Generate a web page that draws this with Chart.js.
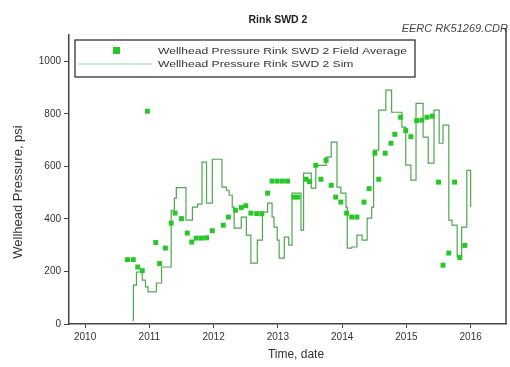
<!DOCTYPE html>
<html>
<head>
<meta charset="utf-8">
<script src="https://cdn.jsdelivr.net/npm/chart.js@4/dist/chart.umd.min.js"></script>
<style>
  html, body { margin: 0; padding: 0; background: #fff; }
  #wrap { width: 510px; height: 367px; }
</style>
</head>
<body>
<div id="wrap"><canvas id="c" width="510" height="367"></canvas></div>
<script>
// Field-measured wellhead pressure (monthly averages), decimal years / psi
const fieldYears = [2010.66, 2010.75, 2010.82, 2010.89, 2010.97, 2011.10, 2011.16, 2011.25, 2011.34, 2011.40,
  2011.50, 2011.59, 2011.66, 2011.73, 2011.81, 2011.89, 2011.98, 2012.15, 2012.23, 2012.34,
  2012.43, 2012.50, 2012.58, 2012.67, 2012.75, 2012.84, 2012.91, 2012.99, 2013.07, 2013.15,
  2013.25, 2013.31, 2013.44, 2013.49, 2013.59, 2013.67, 2013.75, 2013.83, 2013.90, 2013.98,
  2014.07, 2014.15, 2014.23, 2014.34, 2014.42, 2014.51, 2014.57, 2014.67, 2014.76, 2014.82,
  2014.91, 2014.99, 2015.07, 2015.16, 2015.24, 2015.32, 2015.40, 2015.50, 2015.57, 2015.66,
  2015.75, 2015.83, 2015.91];
const fieldPsi = [245, 245, 217, 203, 810, 310, 230, 289, 384, 422,
  401, 346, 312, 327, 327, 328, 355, 376, 407, 433,
  443, 450, 422, 420, 420, 498, 544, 544, 544, 544,
  483, 483, 551, 542, 604, 551, 623, 528, 483, 464,
  422, 407, 407, 464, 515, 650, 551, 650, 688, 722,
  787, 736, 713, 774, 776, 787, 791, 540, 224, 270,
  540, 253, 299];

// Simulated wellhead pressure: each value holds from its date until the next one
const simYears = [2010.736, 2010.752, 2010.80, 2010.89, 2010.94, 2010.98, 2011.11, 2011.19, 2011.34, 2011.39,
  2011.42, 2011.57, 2011.67, 2011.75, 2011.82, 2011.89, 2011.98, 2012.13, 2012.20, 2012.24,
  2012.29, 2012.32, 2012.43, 2012.51, 2012.58, 2012.68, 2012.76, 2012.84, 2012.91, 2012.94,
  2012.99, 2013.02, 2013.10, 2013.17, 2013.22, 2013.36, 2013.40, 2013.52, 2013.59, 2013.75,
  2013.83, 2013.92, 2013.98, 2014.06, 2014.08, 2014.15, 2014.23, 2014.31, 2014.39, 2014.46,
  2014.49, 2014.57, 2014.68, 2014.77, 2014.93, 2014.99, 2015.07, 2015.15, 2015.26, 2015.34,
  2015.43, 2015.51, 2015.57, 2015.66, 2015.71, 2015.79, 2015.86, 2015.94, 2016.00];
const simPsi = [15, 148, 198, 167, 141, 122, 156, 217, 433, 479,
  519, 395, 445, 456, 616, 460, 627, 521, 509, 490,
  445, 365, 407, 338, 232, 319, 426, 460, 407, 369,
  319, 251, 331, 300, 498, 357, 574, 517, 604, 635,
  692, 521, 498, 445, 289, 293, 338, 319, 403, 445,
  662, 814, 890, 806, 749, 605, 548, 840, 711, 612,
  814, 688, 757, 395, 376, 255, 369, 585, 445];

const yearTicks = [2010, 2011, 2012, 2013, 2014, 2015, 2016];
const psiTicks = [0, 200, 400, 600, 800, 1000];

const chartTitle = 'Rink SWD 2';
const fileTag = 'EERC RK51269.CDR';
const fieldLabel = 'Wellhead Pressure Rink SWD 2 Field Average';
const simLabel = 'Wellhead Pressure Rink SWD 2 Sim';
const xTitle = 'Time, date';
const yTitle = 'Wellhead Pressure, psi';

const markerColor = '#27c727';
const simColor = '#4fa84f';
const axisColor = '#444';
const FONT = '"Liberation Sans", Arial, sans-serif';

const fieldPoints = fieldYears.map((x, i) => ({ x, y: fieldPsi[i] }));
const simPoints = simYears.map((x, i) => ({ x, y: simPsi[i] }));

// Title, file tag, axis titles, right frame edge and the boxed legend
const decorations = {
  id: 'decorations',
  afterDraw(chart) {
    const ctx = chart.ctx;
    const a = chart.chartArea;
    ctx.save();

    ctx.strokeStyle = axisColor;
    ctx.lineWidth = 1.5;
    ctx.beginPath();
    ctx.moveTo(a.right, a.top - 7);
    ctx.lineTo(a.right, a.bottom);
    ctx.stroke();

    ctx.fillStyle = '#222';
    ctx.textBaseline = 'middle';
    ctx.textAlign = 'center';
    ctx.font = 'bold 10.5px ' + FONT;
    ctx.fillText(chartTitle, 278, 20);

    ctx.font = 'italic 11px ' + FONT;
    ctx.fillStyle = '#444';
    ctx.textAlign = 'right';
    ctx.fillText(fileTag, 508, 29);

    ctx.fillStyle = '#333';
    ctx.textAlign = 'center';
    ctx.font = '12px ' + FONT;
    ctx.fillText(xTitle, 296, 355);

    ctx.save();
    ctx.translate(18, 192);
    ctx.rotate(-Math.PI / 2);
    ctx.font = '13px ' + FONT;
    ctx.fillText(yTitle, 0, 0);
    ctx.restore();

    // legend box
    ctx.fillStyle = '#fff';
    ctx.fillRect(75, 40, 340, 37);
    ctx.strokeStyle = '#222';
    ctx.lineWidth = 1.2;
    ctx.strokeRect(75, 40, 340, 37);

    ctx.fillStyle = markerColor;
    ctx.fillRect(113, 47, 7, 7);
    ctx.strokeStyle = '#8fe08f';
    ctx.lineWidth = 1.2;
    ctx.beginPath();
    ctx.moveTo(78, 64);
    ctx.lineTo(152, 64);
    ctx.stroke();

    ctx.fillStyle = '#333';
    ctx.textAlign = 'left';
    ctx.font = '9.5px ' + FONT;
    const w = ctx.measureText(fieldLabel).width;
    const sx = 249 / w;
    ctx.save();
    ctx.translate(158, 51);
    ctx.scale(sx, 1);
    ctx.fillText(fieldLabel, 0, 0);
    ctx.fillText(simLabel, 0, 13);
    ctx.restore();

    ctx.restore();
  }
};

new Chart(document.getElementById('c'), {
  type: 'line',
  data: {
    datasets: [
      {
        label: fieldLabel,
        data: fieldPoints,
        showLine: false,
        pointStyle: 'rect',
        pointRadius: 3.5,
        pointBackgroundColor: markerColor,
        pointBorderWidth: 0,
        borderColor: markerColor
      },
      {
        label: simLabel,
        data: simPoints,
        stepped: true,
        borderColor: simColor,
        borderWidth: 1.2,
        pointRadius: 0,
        fill: false
      }
    ]
  },
  options: {
    responsive: false,
    animation: false,
    events: [],
    layout: { padding: { top: 35, right: 2, left: 0, bottom: 0 } },
    plugins: { legend: { display: false }, title: { display: false }, tooltip: { enabled: false } },
    scales: {
      x: {
        type: 'linear',
        min: 2009.75,
        max: 2016.55,
        afterBuildTicks(scale) { scale.ticks = yearTicks.map(v => ({ value: v })); },
        afterFit(scale) { scale.height = 43; },
        ticks: {
          callback: v => String(v),
          color: '#333',
          font: { family: FONT, size: 10 },
          padding: 3,
          maxRotation: 0
        },
        grid: { drawOnChartArea: false, color: axisColor, tickLength: 4 },
        border: { display: true, color: axisColor, width: 1.5 }
      },
      y: {
        type: 'linear',
        min: 0,
        max: 1100,
        afterBuildTicks(scale) { scale.ticks = psiTicks.map(v => ({ value: v })); },
        afterFit(scale) { scale.width = 69; },
        ticks: {
          callback: v => String(v),
          color: '#333',
          font: { family: FONT, size: 10 },
          padding: 3
        },
        grid: { drawOnChartArea: false, color: axisColor, tickLength: 5 },
        border: { display: true, color: axisColor, width: 1.5 }
      }
    }
  },
  plugins: [decorations]
});
</script>
</body>
</html>
